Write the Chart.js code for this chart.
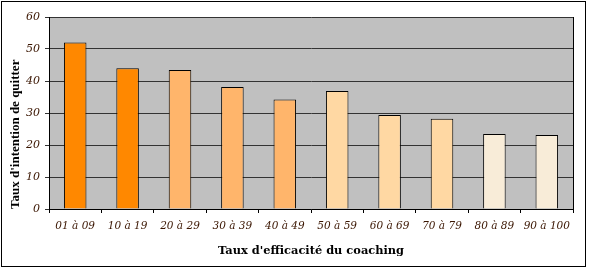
<!DOCTYPE html>
<html><head><meta charset="utf-8">
<script src="https://cdn.jsdelivr.net/npm/chart.js@4.4.1/dist/chart.umd.min.js"></script>
<style>
html,body{margin:0;padding:0;background:#fff;}
#wrap{position:relative;width:590px;height:268px;}
#frame{position:absolute;left:1px;top:1px;width:583px;height:264px;border:1px solid #000;pointer-events:none;}
canvas{position:absolute;left:0;top:0;}
</style></head>
<body>
<div id="wrap"><canvas id="c" width="590" height="268"></canvas><div id="frame"></div></div>
<script>
const categories = ['01 à 09','10 à 19','20 à 29','30 à 39','40 à 49','50 à 59','60 à 69','70 à 79','80 à 89','90 à 100'];
const values = [52, 44, 43.4, 38.1, 34.2, 36.9, 29.4, 28.2, 23.4, 23.1];
const barColors = ['#FF8800','#FF8800','#FFB56B','#FFB56B','#FFB56B','#FFD8A3','#FFD8A3','#FFD8A3','#F8ECD8','#F8ECD8'];
const yTicks = [0,10,20,30,40,50,60];
const yTitle = "Taux d'intention de quitter";
const xTitle = "Taux d'efficacité du coaching";

const plotBg = {
  id:'plotBg',
  beforeDraw(chart){
    const {ctx, chartArea:a} = chart;
    ctx.save();
    ctx.fillStyle = '#C0C0C0';
    ctx.fillRect(a.left, a.top, a.right-a.left, a.bottom-a.top);
    ctx.restore();
  },
  afterDraw(chart){
    const {ctx, chartArea:a} = chart;
    ctx.save();
    ctx.strokeStyle = '#000';
    ctx.lineWidth = 1;
    ctx.beginPath();
    ctx.moveTo(Math.round(a.right)+0.5, a.top);
    ctx.lineTo(Math.round(a.right)+0.5, a.bottom);
    ctx.stroke();
    ctx.restore();
  }
};

const labelColor = '#3a1500';
new Chart(document.getElementById('c'), {
  type:'bar',
  data:{labels:categories, datasets:[{data:values, backgroundColor:barColors, borderColor:'#000', borderWidth:1, barPercentage:0.43, categoryPercentage:1}]},
  options:{
    responsive:false, animation:false,
    layout:{padding:{left:0,right:17,top:17,bottom:0}},
    plugins:{legend:{display:false}, tooltip:{enabled:false}},
    scales:{
      x:{
        grid:{offset:true, drawOnChartArea:false, tickLength:4, color:'#000'},
        border:{color:'#000', width:1},
        ticks:{color:labelColor, padding:7, maxRotation:0, autoSkip:false, font:{family:'DejaVu Serif', style:'italic', size:10.5}},
        title:{display:true, text:xTitle, color:'#000', font:{family:'DejaVu Serif', weight:'bold', size:11.4}, padding:{top:0,bottom:10}},
        afterFit(s){ s.height = 59; }
      },
      y:{
        min:0, max:60,
        afterBuildTicks(s){ s.ticks = yTicks.map(v=>({value:v})); },
        grid:{color:'#333', tickLength:4, lineWidth:1},
        border:{color:'#000', width:1},
        ticks:{color:labelColor, padding:5, font:{family:'DejaVu Serif', style:'italic', size:11}},
        title:{display:true, text:yTitle, align:'start', color:'#000', font:{family:'Liberation Serif', weight:'bold', size:13}, padding:{top:8,bottom:0}},
        afterFit(s){ s.width = 49; }
      }
    }
  },
  plugins:[plotBg]
});
</script>
</body></html>
